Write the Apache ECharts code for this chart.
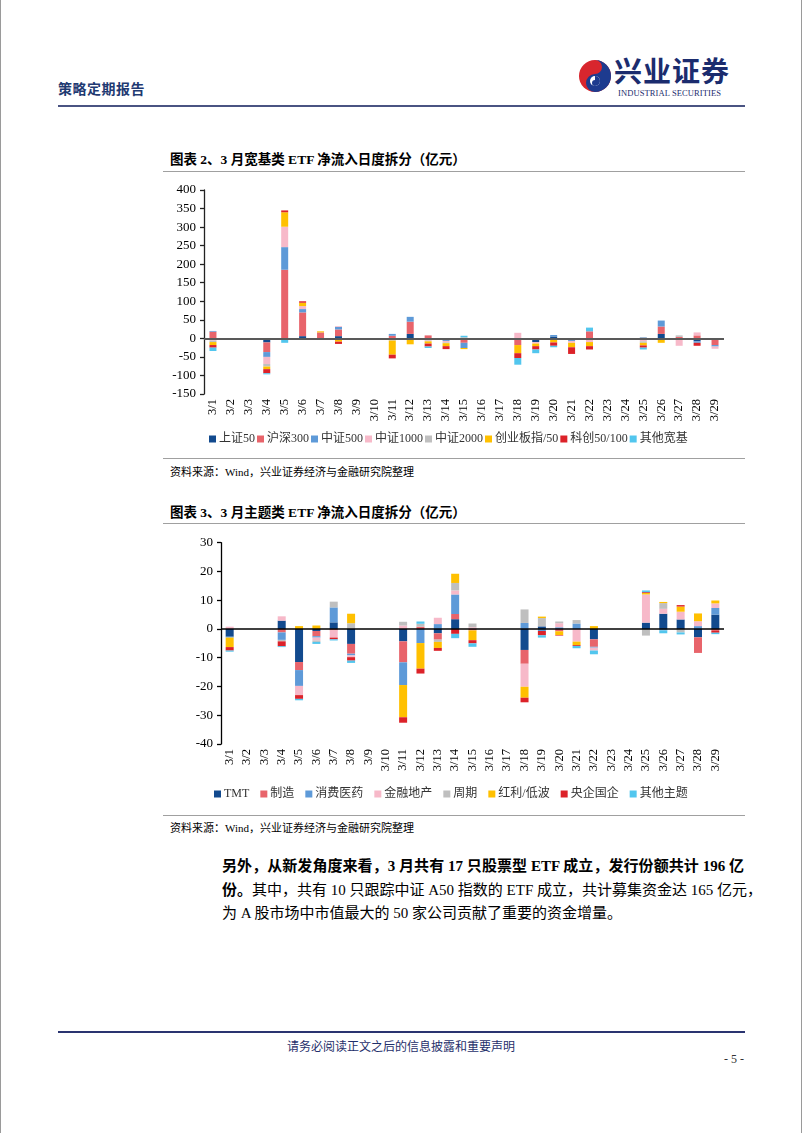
<!DOCTYPE html>
<html><head><meta charset="utf-8">
<script src="https://cdn.jsdelivr.net/npm/echarts@6/dist/echarts.min.js"></script>
<style>
html,body{margin:0;padding:0;background:#fff;}
body{width:802px;height:1133px;position:relative;overflow:hidden;font-family:'Liberation Serif','Noto Sans CJK SC',serif;color:#000;}
.abs{position:absolute;white-space:nowrap;}
.hline{position:absolute;height:0;}
.ptxt{position:absolute;left:222px;width:522px;font-size:15px;line-height:20px;text-align:justify;text-align-last:justify;white-space:nowrap;}
</style></head>
<body>
<div style="position:absolute;left:0;top:0;width:800px;height:1133px;border-left:1px solid #9a9a9a;border-right:1px solid #9a9a9a;"></div>

<div class="abs" style="left:58px;top:78px;font-size:14px;font-weight:700;color:#1f3a72;font-family:'Noto Sans CJK SC';letter-spacing:0.5px;">策略定期报告</div>
<svg class="abs" style="left:578px;top:59px;" width="34" height="34" viewBox="0 0 34 34">
  <circle cx="17" cy="17" r="16" fill="#d8262e"/>
  <path d="M17 1 A16 16 0 0 1 17 33 A9 9 0 0 1 17 15 A7 7 0 0 0 17 1Z" fill="#1d3b8f"/>
  <circle cx="17" cy="22" r="5" fill="#fff"/>
  <path d="M17 17 A5 5 0 0 1 17 27 A3 3 0 0 1 17 21Z" fill="#1d3b8f"/>
</svg>
<div class="abs" style="left:614px;top:53px;font-size:28px;font-weight:700;color:#1b2c6e;font-family:'Noto Sans CJK SC';letter-spacing:1px;line-height:34px;">兴业证券</div>
<div class="abs" style="left:618px;top:88px;font-size:8.5px;color:#1b2c6e;font-family:'Liberation Serif';letter-spacing:0.1px;">INDUSTRIAL SECURITIES</div>
<div class="hline" style="left:58px;top:105px;width:687px;border-top:2px solid #4a5382;"></div>

<div class="abs" style="left:170px;top:148px;font-size:13.5px;font-weight:700;">图表 2、3 月宽基类 ETF 净流入日度拆分（亿元）</div>
<div class="hline" style="left:163px;top:171px;width:582px;border-top:1.5px solid #a0a0a0;"></div>
<div id="c1" style="position:absolute;left:160px;top:176px;width:580px;height:276px;"></div>
<div class="hline" style="left:163px;top:458px;width:582px;border-top:1.5px solid #a0a0a0;"></div>
<div class="abs" style="left:170px;top:463px;font-size:11px;">资料来源：Wind，兴业证券经济与金融研究院整理</div>

<div class="abs" style="left:170px;top:501px;font-size:13.5px;font-weight:700;">图表 3、3 月主题类 ETF 净流入日度拆分（亿元）</div>
<div class="hline" style="left:163px;top:523px;width:582px;border-top:1.5px solid #a0a0a0;"></div>
<div id="c2" style="position:absolute;left:160px;top:528px;width:580px;height:282px;"></div>
<div class="hline" style="left:163px;top:815px;width:582px;border-top:1.5px solid #a0a0a0;"></div>
<div class="abs" style="left:170px;top:819px;font-size:11px;">资料来源：Wind，兴业证券经济与金融研究院整理</div>

<div class="ptxt" style="top:856px;font-weight:700;">另外，从新发角度来看，3 月共有 17 只股票型 ETF 成立，发行份额共计 196 亿</div>
<div class="ptxt" style="top:880px;"><b>份。</b>其中，共有 10 只跟踪中证 A50 指数的 ETF 成立，共计募集资金达 165 亿元，</div>
<div class="ptxt" style="top:903px;text-align:left;text-align-last:left;">为 A 股市场中市值最大的 50 家公司贡献了重要的资金增量。</div>

<div class="hline" style="left:58px;top:1031px;width:687px;border-top:2px solid #2a3470;"></div>
<div class="abs" style="left:0;width:802px;top:1037px;text-align:center;font-size:12px;color:#1f2f6b;font-family:'Noto Sans CJK SC';">请务必阅读正文之后的信息披露和重要声明</div>
<div class="abs" style="left:724px;top:1052px;font-size:12px;color:#333;">- 5 -</div>

<script>
const categories = ['3/1','3/2','3/3','3/4','3/5','3/6','3/7','3/8','3/9','3/10','3/11','3/12','3/13','3/14','3/15','3/16','3/17','3/18','3/19','3/20','3/21','3/22','3/23','3/24','3/25','3/26','3/27','3/28','3/29'];

// 图表2 宽基类（亿元）
const names1 = ['上证50','沪深300','中证500','中证1000','中证2000','创业板指/50','科创50/100','其他宽基'];
const sz50   = [0,null,null,-11,-2,6,0,6,null,null,-4,12,0,-2,0,null,null,-3,-10,5,-2,0,null,null,2,12,-4,-8,-4];
const hs300  = [18,null,null,-26,185,64,16,18,null,null,7,33,8,0,-12,null,null,-15,0,0,0,19,null,null,0,20,4,8,-14];
const zz500  = [2,null,null,-13,61,9,0,7,null,null,5,13,0,-5,-14,null,null,0,0,4,-5,0,null,null,0,16,0,-4,-4];
const zz1000 = [-6,null,null,-19,55,8,0,2,null,null,0,-4,-6,-4,0,null,null,15,-4,0,-5,-10,null,null,-8,0,-16,8,-6];
const zz2000 = [-4,null,null,-7,0,0,-1,-2,null,null,-2,0,-2,-2,3,null,null,0,0,-3,0,0,null,null,-4,0,4,0,0];
const cyb    = [-8,null,null,-7,39,9,3,-7,null,null,-38,-12,-6,-8,-3,null,null,-22,-7,-8,-12,-11,null,null,-7,-12,0,0,0];
const kc     = [-7,null,null,-11,5,4,0,-6,null,null,-10,0,-8,-8,0,null,null,-13,-9,-9,-18,-9,null,null,-6,0,0,-8,0];
const other1 = [-9,null,null,-3,-10,0,-3,0,null,null,0,0,-4,0,4,null,null,-18,-10,-4,0,10,null,null,-5,0,0,0,0];
const yTicks1 = {min:-150, max:400, interval:50};

// 图表3 主题类（亿元）
const names2 = ['TMT','制造','消费医药','金融地产','周期','红利/低波','央企国企','其他主题'];
const tmt     = [-2.7,null,null,2.9,-11.5,-0.7,2.3,-5.2,null,null,-4.3,0,-1.5,3.4,0,null,null,-7.3,0.9,0,0,-3.6,null,null,2.2,5.3,3.3,-2.9,5.0];
const zhizao  = [0,null,null,-1.2,-2.8,-1.8,-0.5,-3.4,null,null,-7.3,0.8,-2.2,1.8,-0.5,null,null,-4.8,0,-0.8,0,-2.6,null,null,0,0,0,-5.2,-0.7];
const xiaofei = [-0.3,null,null,-2.6,-5.5,-0.5,5.2,-0.6,null,null,-7.9,-4.9,1.7,6.8,0,null,null,2.1,-0.7,0.6,1.9,-0.3,null,null,0,-0.5,0,1.0,2.3];
const jinrong = [0.8,null,null,1.5,-3.2,-1.0,-2.5,-0.6,null,null,1.2,0,2.2,1.4,0.6,null,null,-8.0,0,1.4,-4.4,-1.0,null,null,9.8,1.7,2.7,1.7,1.6];
const zhouqi  = [0,null,null,-0.5,0,-0.5,2.0,2.0,null,null,1.3,1.0,-0.8,2.6,1.3,null,null,4.7,2.9,0.6,1.2,0,null,null,-2.3,2.0,-1.2,0,0];
const hongli  = [-3.3,null,null,0,1.0,1.2,0,3.3,null,null,-11.2,-8.9,-2.1,3.2,-3.4,null,null,-3.8,0.5,-1.3,-1.2,1.0,null,null,0.5,0.4,1.8,2.7,1.0];
const yangqi  = [-1.2,null,null,-1.7,-1.3,0,-0.6,-1.2,null,null,-1.9,-1.7,-1.0,-1.7,-1.1,null,null,-1.6,-1.5,-0.2,-0.3,0,null,null,0.3,0,0.5,-0.2,-0.6];
const qita    = [-0.4,null,null,-0.3,-0.5,-0.7,-0.4,-0.8,null,null,0,0.8,0,-1.5,-1.2,null,null,0,-0.8,0,-0.8,-1.3,null,null,0.6,-1.0,-0.7,0,-0.5];
const yTicks2 = {min:-40, max:30, interval:10};

const colors = ['#124a8e','#e8646b','#5e9ad8','#f7b9c9','#bfbfbf','#ffc000','#dc2229','#52c6ee'];
const FONT = "'Liberation Serif','Noto Sans CJK SC',serif";

function build(names, datas, ticks, g, lg, zeroColor, zeroW, barW, axisColor, itemGap){
  const series = datas.map((d,i)=>{
    const s = {name:names[i], type:'bar', stack:'total', data:d, barWidth:barW,
      itemStyle:{color:colors[i]}, emphasis:{disabled:true}};
    if(i===0){
      s.markLine = {silent:true, symbol:['none','none'], label:{show:false}, animation:false,
        lineStyle:{color:zeroColor, width:zeroW, type:'solid'}, data:[{yAxis:0}], z:10};
    }
    return s;
  });
  return {
    animation:false,
    color:colors,
    textStyle:{fontFamily:FONT},
    grid:g,
    legend:{left:lg.left, top:lg.top, itemWidth:7, itemHeight:7, itemGap:itemGap, icon:'rect',
      textStyle:{fontSize:12, color:'#333', fontFamily:FONT, padding:[0,0,0,-2]}, data:names},
    xAxis:{type:'category', data:categories, position:'bottom',
      axisLine:{show:false, onZero:false}, axisTick:{show:false},
      axisLabel:{rotate:90, interval:0, fontSize:12.5, color:'#000', fontFamily:FONT, margin:5}},
    yAxis:{type:'value', min:ticks.min, max:ticks.max, interval:ticks.interval,
      axisLine:{show:true, lineStyle:{color:axisColor, width:1.3}},
      axisTick:{show:true, length:4, lineStyle:{color:axisColor, width:1.3}},
      splitLine:{show:false},
      axisLabel:{fontSize:13, color:'#000', fontFamily:FONT, margin:8}},
    series:series
  };
}

const c1 = echarts.init(document.getElementById('c1'), null, {renderer:'canvas'});
c1.setOption(build(names1, [sz50,hs300,zz500,zz1000,zz2000,cyb,kc,other1], yTicks1,
  {left:44, top:14, width:520, height:204}, {left:44, top:252}, '#595959', 2, 7, '#222', 2));

const c2 = echarts.init(document.getElementById('c2'), null, {renderer:'canvas'});
c2.setOption(build(names2, [tmt,zhizao,xiaofei,jinrong,zhouqi,hongli,yangqi,qita], yTicks2,
  {left:61, top:14.7, width:503, height:201.3}, {left:49, top:255}, '#000', 1.5, 8, '#000', 11));
</script>
</body></html>
